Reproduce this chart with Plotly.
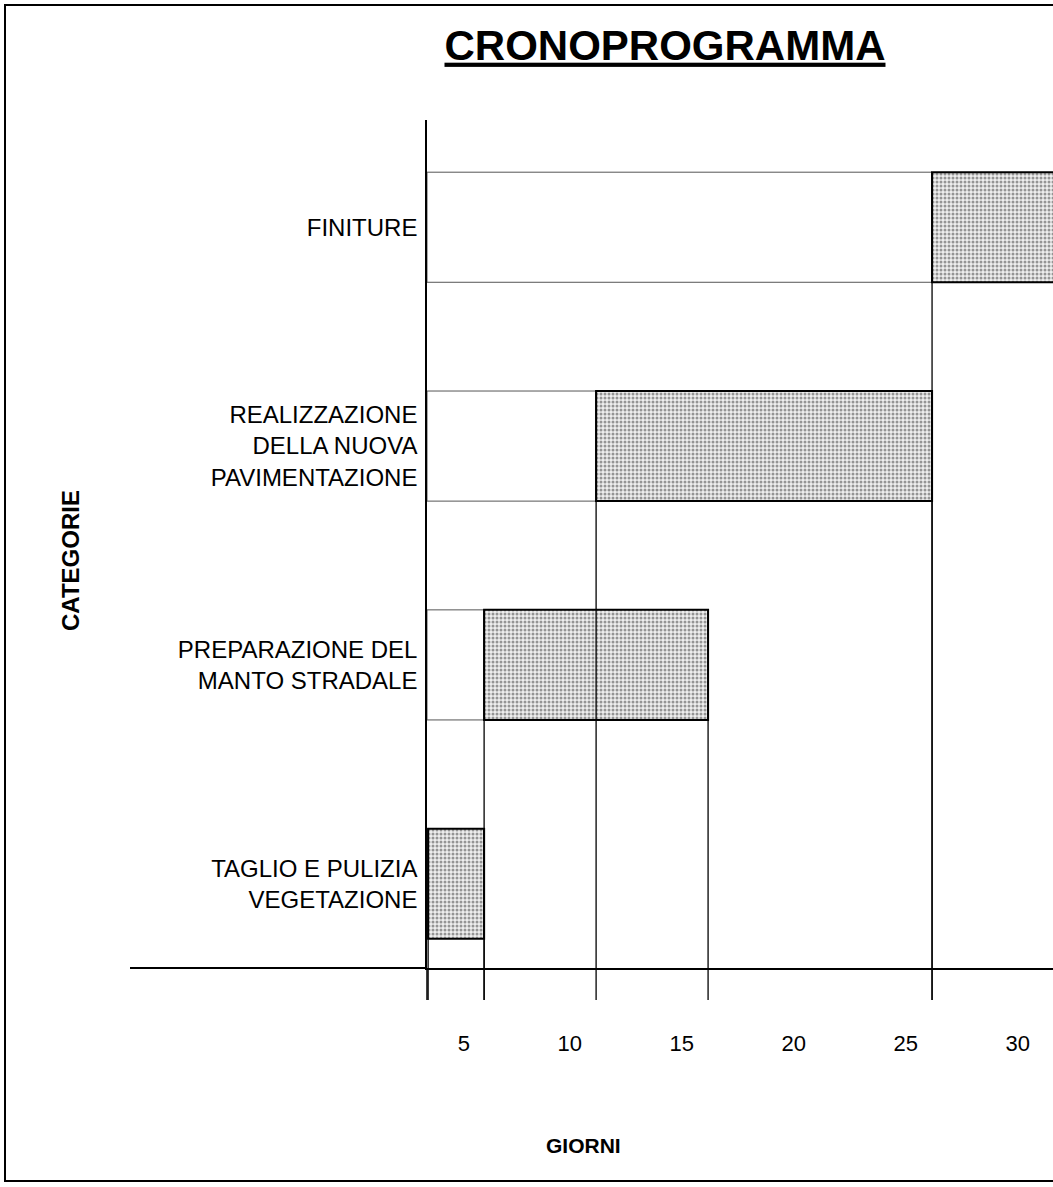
import plotly.graph_objects as go

# ---- data ----
categories = ["TAGLIO E PULIZIA<br>VEGETAZIONE",
              "PREPARAZIONE DEL<br>MANTO STRADALE",
              "REALIZZAZIONE<br>DELLA NUOVA<br>PAVIMENTAZIONE",
              "FINITURE"]
start_day = [2.5, 5, 10, 25]
end_day = [5, 15, 25, 31]
tick_days = [5, 10, 15, 20, 25, 30]
tick_labels = ["5", "10", "15", "20", "25", "30"]

X_MIN, X_MAX = 2.45, 30.4
Y_MIN, Y_MAX = -0.385, 3.49
BARGAP = 0.497

W, H = 1053, 1187
ML, MR, MT, MB = 427, 0, 120, 219
PW, PH = W - ML - MR, H - MT - MB

FONT = "Liberation Sans, Arial, sans-serif"

duration = [e - s for s, e in zip(start_day, end_day)]
lead = [s - X_MIN for s in start_day]

fig = go.Figure()
# white lead-in segments
fig.add_trace(go.Bar(
    y=categories, x=lead, base=[X_MIN] * len(categories), orientation="h",
    marker=dict(color="white", line=dict(color="#555555", width=1)),
    showlegend=False, hoverinfo="skip"))
# activity bars
fig.add_trace(go.Bar(
    y=categories, x=duration, base=start_day, orientation="h",
    marker=dict(color="#e0e0e0",
                pattern=dict(shape=".", fgcolor="#3a3a3a", bgcolor="#eeeeee",
                             size=4, solidity=0.45),
                line=dict(color="black", width=2)),
    showlegend=False))

shapes = []
below = -32 / PH
half = (1 - BARGAP) / 2
for i, (s, e) in enumerate(zip(start_day, end_day)):
    top = (i + half - Y_MIN) / (Y_MAX - Y_MIN)
    for xv in (s, e):
        if X_MIN < xv < X_MAX:
            shapes.append(dict(type="line", xref="x", yref="paper",
                               x0=xv, x1=xv, y0=below, y1=top,
                               line=dict(color="black", width=1.3), layer="above"))
# y-axis extension below x axis
shapes.append(dict(type="line", xref="paper", yref="paper", x0=0, x1=0, y0=below, y1=0,
                   line=dict(color="black", width=1.5)))
# x-axis extension to the left
shapes.append(dict(type="line", xref="paper", yref="paper", x0=(130 - ML) / PW, x1=0,
                   y0=0, y1=0, line=dict(color="black", width=2)))
# outer frame
shapes.append(dict(type="rect", xref="paper", yref="paper",
                   x0=(5 - ML) / PW, x1=1.05,
                   y0=-(1181 - (MT + PH)) / PH, y1=(MT + PH - 5) / PH,
                   line=dict(color="black", width=2)))

annotations = [
    dict(text="<b>GIORNI</b>", xref="paper", yref="paper",
         x=(583 - ML) / PW, y=-(1145 - (MT + PH)) / PH,
         xanchor="center", yanchor="middle", showarrow=False,
         font=dict(size=21, family=FONT)),
    dict(text="<b>CATEGORIE</b>", xref="paper", yref="paper",
         x=(70 - ML) / PW, y=(MT + PH - 561) / PH, textangle=-90,
         xanchor="center", yanchor="middle", showarrow=False,
         font=dict(size=24, family=FONT)),
]

fig.update_layout(
    width=W, height=H,
    margin=dict(l=ML, r=MR, t=MT, b=MB, autoexpand=False),
    paper_bgcolor="white", plot_bgcolor="white",
    barmode="overlay", bargap=BARGAP,
    font=dict(family=FONT, color="black"),
    title=dict(text="<b><u>CRONOPROGRAMMA</u></b>", x=665 / W, xanchor="center",
               y=1 - 45 / H, yanchor="middle", font=dict(size=42, family=FONT)),
    xaxis=dict(range=[X_MIN, X_MAX], showgrid=False, zeroline=False,
               showline=True, linecolor="black", linewidth=2,
               tickvals=tick_days, ticktext=tick_labels, ticks="",
               ticklabelposition="outside left", ticklabelstandoff=55,
               ticklabelshift=-13,
               tickfont=dict(size=22), automargin=False),
    yaxis=dict(range=[Y_MIN, Y_MAX], type="category",
               categoryorder="array", categoryarray=categories,
               showgrid=False, zeroline=False,
               showline=True, linecolor="black", linewidth=1.5,
               ticks="", ticklabelstandoff=3, tickfont=dict(size=24),
               automargin=False),
    shapes=shapes,
    annotations=annotations,
)

fig.write_html("out.html", config={"displayModeBar": False},
               post_script="document.body.style.margin='0';")
